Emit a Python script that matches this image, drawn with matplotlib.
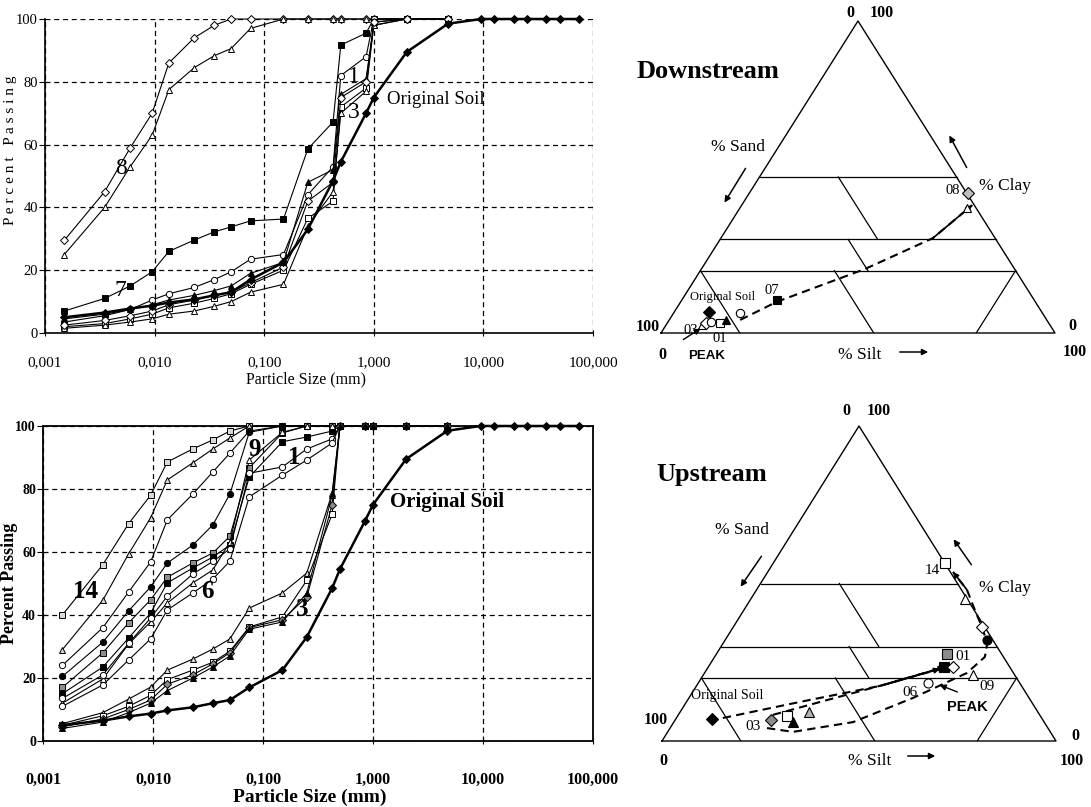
import matplotlib
matplotlib.use("Agg")
import matplotlib.pyplot as plt

# ---- FIGURE ----
W, H = 1091, 807
SERIF = ["Liberation Serif", "DejaVu Serif"]
SANS = ["Liberation Sans", "DejaVu Sans"]
plt.rcParams["font.family"] = SERIF

# ---- GRAIN SIZE DATA (mm, % passing) ----
SIZES = [0.0015, 0.0035, 0.006, 0.0095, 0.0135, 0.023, 0.035, 0.05, 0.075,
         0.15, 0.25, 0.425, 0.5, 0.85, 1.0, 2.0, 4.75]
SIZES_ORIG = SIZES + [9.5, 12.5, 19, 25, 37.5, 50, 75]
ORIGINAL_SOIL = [5, 6.5, 7.8, 8.7, 9.7, 10.7, 12, 13, 17, 22.5, 33, 48.5, 54.5,
                 70, 75, 89.5, 98.5, 100, 100, 100, 100, 100, 100, 100]

X_TICKS = [0.001, 0.01, 0.1, 1, 10, 100]
X_TICK_LABELS = ["0,001", "0,010", "0,100", "1,000", "10,000", "100,000"]
Y_TICKS = [0, 20, 40, 60, 80, 100]

# downstream samples
DS_8_DIAMOND = [29.5, 45, 59, 70, 86, 94, 98, 100, 100, 100, 100, 100, 100, 100, 100, 100, 100]
DS_8_TRIANGLE = [25, 40, 53, 63, 77.5, 84.5, 88.3, 90.6, 97, 100, 100, 100, 100, 100, 100, 100, 100]
DS_7_SQUARE = [7, 11, 15, 19.5, 26, 29.6, 32.2, 33.8, 35.7, 36.3, 58.6, 67.2, 91.7, 95.5, 100, 100, 100]
DS_1_CIRCLE = [3.5, 5.5, 7.5, 10.5, 12.5, 14.5, 17, 19.5, 23.5, 25, 44, 53, 82, 88, 100, 100, 100]
DS_TRIANGLE = [4.5, 6, 7.5, 9, 10.5, 12, 13.5, 15, 19, 22.5, 48, 52, 76, 81, 98, 100, 100]
DS_SQUARE = [2, 3, 4.5, 6, 8, 9.5, 11, 12.5, 15.5, 20, 36.5, 42, 72, 78, 99, 100, 100]
DS_OPEN_TRIANGLE = [1.5, 2.5, 3.5, 4.5, 6, 7, 8.5, 10, 13, 15.5, 34, 45, 70, 77, 98, 100, 100]
DS_3_DIAMOND = [2.5, 4, 5.5, 7, 9, 10.5, 12, 13, 16, 21, 42, 48, 75, 80, 99, 100, 100]

# upstream samples
US_14_SQUARE = [40, 56, 69, 78, 88.6, 92.7, 95.6, 98.4, 100, 100, 100, 100, 100, 100, 100, 100, 100]
US_14_TRIANGLE = [29, 44.7, 59.4, 70.8, 82.9, 88.3, 92.7, 96.2, 100, 100, 100, 100, 100, 100, 100, 100, 100]
US_DIAMOND = [24, 36, 47.3, 56.8, 70.2, 78.4, 85.4, 91.4, 98.4, 100, 100, 100, 100, 100, 100, 100, 100]
US_FILLED_CIRCLE = [20.5, 31.4, 41.3, 48.9, 56.5, 62.2, 68.6, 78.4, 98, 100, 100, 100, 100, 100, 100, 100, 100]
US_GREY_SQUARE = [17, 28, 37.5, 44.8, 52, 56.5, 59.7, 65, 86.7, 97.8, 100, 100, 100, 100, 100, 100, 100]
US_FILLED_SQUARE = [15, 23.5, 32.7, 40.6, 50.2, 54.9, 58.4, 62.2, 83.8, 95, 96.5, 98.4, 100, 100, 100, 100, 100]
US_9_TRIANGLE = [12, 19.7, 30.8, 37.8, 43.8, 50.2, 54.3, 63.2, 89.2, 98, 100, 100, 100, 100, 100, 100, 100]
US_1_CIRCLE = [13.5, 21, 31, 39, 46, 53, 57, 61, 85, 87, 92.7, 95.9, 100, 100, 100, 100, 100]
US_6_CIRCLE = [11, 17.8, 25.7, 32.4, 41.6, 47, 51.4, 57.1, 77.5, 84.4, 89.2, 94.6, 100, 100, 100, 100, 100]
US_3_TRIANGLE = [5.5, 9, 13.3, 17.1, 22.5, 26, 29.2, 32.4, 42.2, 47, 53.3, 78.7, 100, 100, 100, 100, 100]
US_3_SQUARE = [5, 8, 11, 14.5, 19.5, 22.5, 25, 28.5, 36.2, 39.4, 51, 72, 100, 100, 100, 100, 100]
US_3_DIAMOND = [4.5, 7, 10, 13, 18, 21, 24.5, 28, 36, 38.5, 45.7, 75, 100, 100, 100, 100, 100]
US_3_FILLED_TRIANGLE = [4, 6, 9, 12, 16, 20, 23.5, 27, 35.5, 37.8, 47, 78, 100, 100, 100, 100, 100]

# ---- TERNARY DATA (silt %, clay %) ----
DS_TERN_SILT = [8.8, 9.1, 9.8, 11.0, 13.4, 14.4, 16.8, 24.1, 55.5, 57.7]
DS_TERN_CLAY = [6.7, 2.6, 3.2, 3.5, 3.2, 4.2, 6.4, 10.6, 44.9, 40.0]
DS_TERN_MARKER = ["D", "^", "D", "o", "s", "^", "o", "s", "D", "^"]
DS_TERN_FACE = ["k", "w", "w", "w", "w", "k", "w", "k", "0.75", "w"]
DS_PATH_SILT = [18, 24.4, 41.5, 53.8, 58.5]
DS_PATH_CLAY = [4.2, 10, 20.5, 30.4, 41]

US_TERN_SILT = [9.2, 24.4, 27.8, 30.2, 32.7, 43.5, 54.4, 63.1, 66.5, 58.5, 59.9, 62.1, 68.4, 58.3]
US_TERN_CLAY = [7.0, 6.7, 7.9, 6.0, 9.2, 56.5, 45.0, 36.2, 32.0, 27.6, 23.5, 23.5, 21.0, 18.4]
US_TERN_MARKER = ["D", "D", "s", "^", "^", "s", "^", "D", "o", "s", "s", "D", "^", "o"]
US_TERN_FACE = ["k", "0.55", "w", "k", "0.7", "w", "w", "w", "k", "0.55", "k", "w", "w", "w"]
US_PATH1_SILT = [11.8, 28.8, 46.6, 59.1]
US_PATH1_CLAY = [7.3, 12.4, 17.5, 22.9]
US_PATH2_SILT = [24, 35.4, 48, 60]
US_PATH2_CLAY = [8.3, 13, 18.1, 23.5]
US_PATH3_SILT = [24.6, 31.8, 45.5, 56.9, 66.6, 68.6, 67, 63.1, 58.6, 53.4, 47]
US_PATH3_CLAY = [4.1, 2.9, 6, 13.7, 21.6, 26.7, 31.1, 36.2, 41.6, 48, 53.7]

# texture class boundaries, each (silt0, clay0, silt1, clay1)
BOUNDARIES = [(0, 50, 50, 50), (0, 30, 70, 30), (0, 20, 80, 20),
              (20, 50, 40, 30), (32.5, 30, 42.5, 20), (0, 20, 20, 0),
              (34, 20, 54, 0), (80, 20, 80, 0)]


fig = plt.figure(figsize=(W / 100, H / 100), dpi=100)


def px_axes(left, top, right, bottom):
    return fig.add_axes([left / W, 1 - bottom / H, (right - left) / W, (bottom - top) / H])


def ftext(x, y, s, **kw):
    kw.setdefault("ha", "center")
    kw.setdefault("va", "center")
    fig.text(x / W, 1 - y / H, s, **kw)


def farrow(x0, y0, x1, y1, lw=1.1):
    fig.add_artist(matplotlib.patches.FancyArrowPatch(
        (x0 / W, 1 - y0 / H), (x1 / W, 1 - y1 / H), transform=fig.transFigure,
        arrowstyle="-|>", mutation_scale=9, color="k", lw=lw))


def grain_axes(ax, xsize, ysize, weight, pad):
    ax.set_xscale("log")
    ax.set_xlim(0.001, 100)
    ax.set_ylim(0, 100)
    ax.set_xticks(X_TICKS)
    ax.set_xticklabels(X_TICK_LABELS)
    ax.minorticks_off()
    ax.set_yticks(Y_TICKS)
    ax.tick_params(axis="x", length=4, direction="inout", pad=pad,
                   labelsize=xsize)
    ax.tick_params(axis="y", length=4, direction="out", pad=1,
                   labelsize=ysize)
    for lab in ax.get_xticklabels() + ax.get_yticklabels():
        lab.set_fontweight(weight)
    ax.grid(True, color="k", linestyle=(0, (4, 3)), linewidth=0.9)
    ax.set_axisbelow(True)


def curve(ax, x, y, marker, face, ms=4.5, lw=0.8):
    ax.plot(x, y, color="k", lw=lw, marker=marker, ms=ms, mfc=face,
            mec="k", mew=0.7, clip_on=False, zorder=3)


# ---- DOWNSTREAM GRAIN SIZE ----
ax1 = px_axes(45, 19, 593, 333)
grain_axes(ax1, 11, 10.5, "normal", 15)
for side in ("top", "right"):
    ax1.spines[side].set_visible(False)
for side in ("left", "bottom"):
    ax1.spines[side].set_linewidth(1.2)

curve(ax1, SIZES, DS_8_DIAMOND, "D", "w", ms=4)
curve(ax1, SIZES, DS_8_TRIANGLE, "^", "w")
curve(ax1, SIZES, DS_7_SQUARE, "s", "k")
curve(ax1, SIZES, DS_1_CIRCLE, "o", "w")
curve(ax1, SIZES, DS_TRIANGLE, "^", "k")
curve(ax1, SIZES, DS_SQUARE, "s", "w")
curve(ax1, SIZES, DS_OPEN_TRIANGLE, "^", "w")
curve(ax1, SIZES, DS_3_DIAMOND, "D", "w", ms=4)
curve(ax1, SIZES_ORIG, ORIGINAL_SOIL, "D", "k", ms=4, lw=1.8)

ftext(121, 168, "8", fontsize=17)
ftext(120, 290, "7", fontsize=17)
ftext(354, 77, "1", fontsize=17)
ftext(354, 113, "3", fontsize=17)
ftext(387, 100, "Original Soil", fontsize=13.5, ha="left")
ftext(11, 150, "P e r c e n t   P a s s i n g", fontsize=11, rotation=90)
ftext(306, 379, "Particle Size (mm)", fontsize=11.5)

# ---- UPSTREAM GRAIN SIZE ----
ax2 = px_axes(43, 426, 593, 741)
grain_axes(ax2, 11.5, 10, "bold", 20)
for side in ax2.spines.values():
    side.set_linewidth(1.3)

curve(ax2, SIZES, US_14_SQUARE, "s", "0.85")
curve(ax2, SIZES, US_14_TRIANGLE, "^", "0.85")
curve(ax2, SIZES, US_DIAMOND, "o", "w")
curve(ax2, SIZES, US_FILLED_CIRCLE, "o", "k")
curve(ax2, SIZES, US_GREY_SQUARE, "s", "0.55")
curve(ax2, SIZES, US_FILLED_SQUARE, "s", "k")
curve(ax2, SIZES, US_9_TRIANGLE, "^", "w")
curve(ax2, SIZES, US_1_CIRCLE, "o", "w")
curve(ax2, SIZES, US_6_CIRCLE, "o", "w")
curve(ax2, SIZES, US_3_TRIANGLE, "^", "0.85")
curve(ax2, SIZES, US_3_SQUARE, "s", "w")
curve(ax2, SIZES, US_3_DIAMOND, "D", "0.55", ms=4)
curve(ax2, SIZES, US_3_FILLED_TRIANGLE, "^", "k")
curve(ax2, SIZES_ORIG, ORIGINAL_SOIL, "D", "k", ms=4.5, lw=1.8)

ftext(86, 591, "14", fontsize=18, fontweight="bold")
ftext(255, 450, "9", fontsize=18, fontweight="bold")
ftext(294, 457, "1", fontsize=18, fontweight="bold")
ftext(207, 591, "6", fontsize=18, fontweight="bold")
ftext(302, 610, "3", fontsize=18, fontweight="bold")
ftext(390, 502, "Original Soil", fontsize=15, fontweight="bold", ha="left")
ftext(10, 583, "Percent Passing", fontsize=13, fontweight="bold", rotation=90)
ftext(310, 797, "Particle Size (mm)", fontsize=14, fontweight="bold")


# ---- TERNARY DIAGRAMS ----
def tern(silt, clay):
    return [s + c / 2 for s, c in zip(silt, clay)], list(clay)


def ternary_axes(left, apex_y, right, base_y):
    ax = px_axes(left, apex_y, right, base_y)
    ax.set_xlim(0, 100)
    ax.set_ylim(0, 100)
    ax.axis("off")
    ox, oy = tern([0, 100, 0, 0], [0, 0, 100, 0])
    ax.plot(ox, oy, color="k", lw=1.0, clip_on=False)
    for s0, c0, s1, c1 in BOUNDARIES:
        bx, by = tern([s0, s1], [c0, c1])
        ax.plot(bx, by, color="k", lw=0.9)
    return ax


def tern_points(ax, silt, clay, markers, faces, size):
    xs, ys = tern(silt, clay)
    for x, y, m, f in zip(xs, ys, markers, faces):
        ax.plot(x, y, marker=m, ms=size, mfc=f, mec="k", mew=0.8,
                ls="none", zorder=4, clip_on=False)


def tern_path(ax, silt, clay):
    xs, ys = tern(silt, clay)
    ax.plot(xs, ys, color="k", lw=1.5, ls=(0, (4, 2.5)), zorder=3)
    ax.annotate("", xy=(xs[-1], ys[-1]), xytext=(xs[-2], ys[-2]),
                arrowprops=dict(arrowstyle="-|>", color="k", lw=1.2,
                                mutation_scale=8, shrinkA=0, shrinkB=0))


# downstream triangle
axd = ternary_axes(661, 21, 1055, 333)
tern_path(axd, DS_PATH_SILT, DS_PATH_CLAY)
tern_points(axd, DS_TERN_SILT, DS_TERN_CLAY, DS_TERN_MARKER, DS_TERN_FACE, 6)

ftext(637, 72, "Downstream", fontsize=19, fontweight="bold", ha="left")
ftext(850, 13, "0", fontsize=11.5, fontweight="bold")
ftext(882, 13, "100", fontsize=11.5, fontweight="bold")
ftext(738, 147, "% Sand", fontsize=12.5)
farrow(747, 166, 723, 205)
ftext(1005, 186, "% Clay", fontsize=12.5)
farrow(968, 170, 948, 133)
ftext(953, 191, "08", fontsize=10.5)
ftext(723, 297, "Original Soil", fontsize=9)
ftext(772, 290, "07", fontsize=10.5)
ftext(648, 327, "100", fontsize=11.5, fontweight="bold")
ftext(662, 355, "0", fontsize=11.5, fontweight="bold")
ftext(707, 356, "PEAK", fontsize=9.5, fontweight="bold", family=SANS)
farrow(681, 341, 703, 327, lw=1.0)
ftext(691, 330, "03", fontsize=10.5)
ftext(720, 339, "01", fontsize=10.5)
ftext(860, 355, "% Silt", fontsize=12.5)
farrow(897, 352, 931, 352)
ftext(1072, 326, "0", fontsize=11.5, fontweight="bold")
ftext(1075, 352, "100", fontsize=11.5, fontweight="bold")

# upstream triangle
axu = ternary_axes(662, 426, 1056, 741)
tern_path(axu, US_PATH1_SILT, US_PATH1_CLAY)
tern_path(axu, US_PATH2_SILT, US_PATH2_CLAY)
tern_path(axu, US_PATH3_SILT, US_PATH3_CLAY)
tern_points(axu, US_TERN_SILT, US_TERN_CLAY, US_TERN_MARKER, US_TERN_FACE, 6.5)

ftext(656, 474, "Upstream", fontsize=19, fontweight="bold", ha="left")
ftext(846, 411, "0", fontsize=11.5, fontweight="bold")
ftext(879, 411, "100", fontsize=11.5, fontweight="bold")
ftext(742, 530, "% Sand", fontsize=12.5)
farrow(763, 554, 739, 589)
ftext(932, 570, "14", fontsize=11)
ftext(1005, 588, "% Clay", fontsize=12.5)
farrow(973, 567, 952, 537)
ftext(963, 657, "01", fontsize=11)
ftext(987, 686, "09", fontsize=11)
ftext(910, 692, "06", fontsize=11)
ftext(967, 707, "PEAK", fontsize=10.5, fontweight="bold", family=SANS)
farrow(960, 693, 937, 684, lw=1.0)
ftext(727, 696, "Original Soil", fontsize=10)
ftext(656, 720, "100", fontsize=11.5, fontweight="bold")
ftext(753, 727, "03", fontsize=11)
ftext(663, 761, "0", fontsize=11.5, fontweight="bold")
ftext(870, 761, "% Silt", fontsize=12.5)
farrow(905, 756, 938, 756)
ftext(1075, 736, "0", fontsize=11.5, fontweight="bold")
ftext(1072, 761, "100", fontsize=11.5, fontweight="bold")

fig.savefig("out.png", dpi=100)
